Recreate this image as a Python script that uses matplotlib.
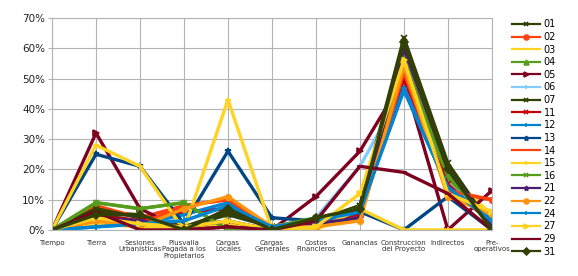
import matplotlib
matplotlib.use("Agg")
import matplotlib.pyplot as plt

categories = ["Tiempo", "Tierra", "Sesiones\nUrbanisticas", "Plusvalia\nPagada a los\nPropietarios",
              "Cargas\nLocales", "Cargas\nGenerales", "Costos\nFinancieros", "Ganancias",
              "Construccion\ndel Proyecto", "Indirectos", "Pre-\noperativos"]

s01 = [0, 6, 5, 1, 6, 1, 3, 8, 62, 20, 1]
s02 = [0, 8, 4, 8, 10, 1, 2, 5, 52, 12, 10]
s03 = [0, 2, 1, 1, 2, 0, 1, 4, 55, 18, 5]
s04 = [0, 9, 7, 9, 0, 1, 3, 6, 57, 17, 2]
s05 = [0, 32, 7, 0, 1, 0, 11, 26, 50, 0, 13]
s06 = [0, 5, 3, 3, 8, 1, 4, 21, 47, 15, 4]
s07 = [0, 7, 4, 1, 5, 1, 3, 8, 63.5, 22, 1]
s11 = [0, 5, 3, 6, 7, 1, 2, 5, 50, 15, 2]
s12 = [0, 1, 2, 5, 9, 1, 2, 6, 47, 14, 4]
s13 = [0, 25, 21, 2, 26, 4, 3, 6, 0, 11, 0]
s14 = [0, 3, 2, 8, 10, 1, 2, 4, 52, 13, 10]
s15 = [0, 28, 21, 0, 43, 0, 0, 7, 0, 0, 0]
s16 = [0, 9, 7, 9, 0, 1, 4, 7, 56, 18, 2]
s21 = [0, 4, 3, 1, 3, 0, 2, 4, 60, 20, 1]
s22 = [0, 3, 1, 7, 11, 1, 1, 3, 54, 11, 5]
s24 = [0, 1, 2, 3, 8, 1, 3, 6, 46, 14, 3]
s27 = [0, 4, 2, 1, 3, 0, 1, 12, 56, 12, 6]
s29 = [0, 6, 0, 0, 1, 0, 3, 21, 19, 12, 0]
s31 = [0, 5, 5, 0, 7, 0, 4, 7, 62, 20, 0]

series = [
    ("01", s01, "#314004", "x"), ("02", s02, "#ff420e", "o"), ("03", s03, "#ffd320", None),
    ("04", s04, "#579d1c", "^"), ("05", s05, "#7e0021", ">"), ("06", s06, "#83caff", "+"),
    ("07", s07, "#314004", "x"), ("11", s11, "#c5000b", "x"), ("12", s12, "#0084d1", "+"),
    ("13", s13, "#004586", "*"), ("14", s14, "#ff420e", None), ("15", s15, "#ffd320", "+"),
    ("16", s16, "#579d1c", "x"), ("21", s21, "#4b1f6f", "*"), ("22", s22, "#ff950e", "o"),
    ("24", s24, "#0084d1", "+"), ("27", s27, "#ffd320", ">"), ("29", s29, "#7e0021", "_"),
    ("31", s31, "#314004", "D"),
]

fig = plt.figure(figsize=(5.78, 2.76), dpi=100)
ax = fig.add_axes([0.09, 0.167, 0.761, 0.768])
x = range(len(categories))
for name, vals, col, mk in series:
    ax.plot(x, [v / 100 for v in vals], color=col, lw=2.4, marker=mk, ms=4, mew=1.2, label=name)

ax.set_xlim(0, len(categories) - 1)
ax.set_ylim(0, 0.7)
ax.set_yticks([i / 10 for i in range(8)])
ax.set_yticklabels([f"{i * 10}%" for i in range(8)], fontsize=7.5, color="#222222")
ax.set_xticks(list(x))
ax.set_xticklabels(categories, fontsize=5, color="#333333", va="top", linespacing=1.1)
ax.tick_params(axis="x", length=0, pad=7)
ax.tick_params(axis="y", length=3, color="#b3b3b3", pad=2)
ax.grid(True, color="#b3b3b3", lw=0.8)
ax.set_axisbelow(True)
for sp in ax.spines.values():
    sp.set_color("#b3b3b3")
    sp.set_linewidth(0.8)

leg = fig.legend(loc="upper left", bbox_to_anchor=(0.885, 0.93), frameon=False, fontsize=7,
                 handlelength=2.9, labelspacing=0.27, handletextpad=0.4, borderaxespad=0,
                 borderpad=0)
for h in leg.legend_handles:
    h.set_linewidth(1.6)
    h.set_markersize(3.5)
fig.savefig("out.png", dpi=100)
